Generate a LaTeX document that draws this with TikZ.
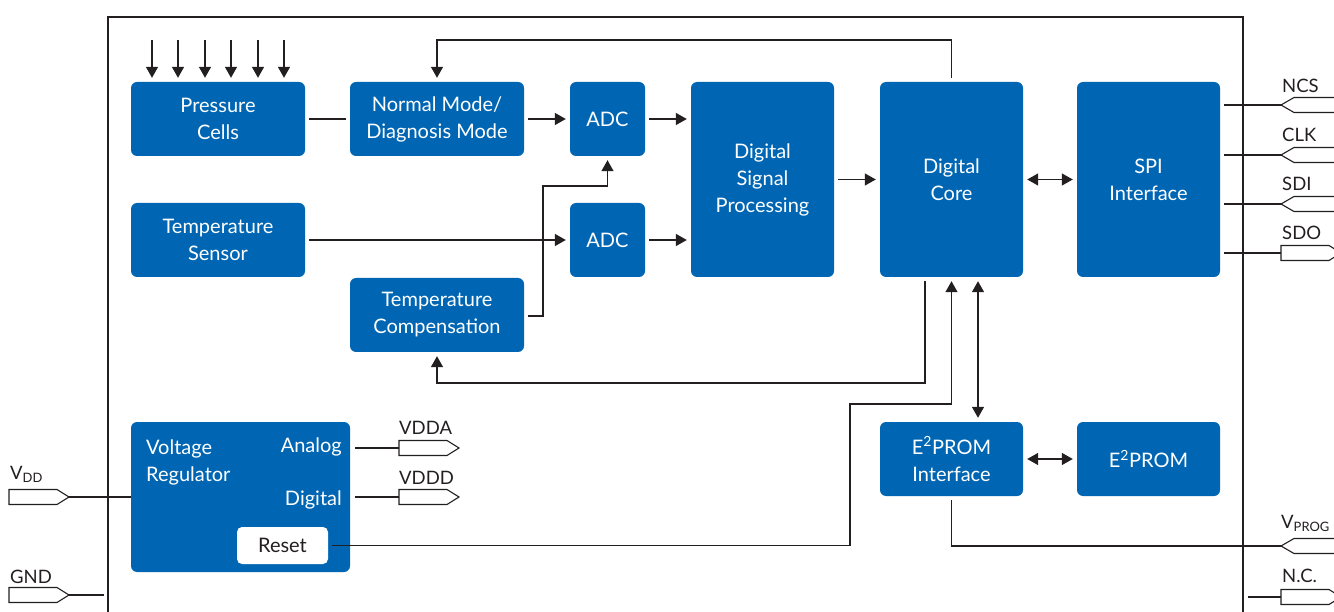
\documentclass[tikz,border=0pt]{standalone}
\usepackage{fontspec}
\setmainfont{Lato}
\usetikzlibrary{arrows.meta}
\definecolor{ifx}{HTML}{0066B3}
\definecolor{ln}{HTML}{231F20}
\begin{document}
\begin{tikzpicture}[x=1pt,y=-1pt,
 blk/.style={fill=ifx, rounded corners=6pt, text=white, align=center, font=\fontsize{20}{27}\selectfont, inner sep=0pt},
 wire/.style={draw=ln, line width=1.4pt},
 tip/.tip={Triangle[width=12pt,length=11pt]},
 arr/.style={wire, -tip},
 darr/.style={wire, tip-tip},
 gap/.style={shorten <=4pt, shorten >=4pt},
 pinshape/.style={draw=ln, line width=1.1pt, fill=white},
 lbl/.style={font=\fontsize{18.5}{20}\selectfont, text=ln, inner sep=0pt, anchor=base west},
 wtxt/.style={font=\fontsize{20}{27}\selectfont, text=white, inner sep=0pt},
 innerbox/.style={fill=white, rounded corners=5pt, text=ln, font=\fontsize{20}{27}\selectfont, inner sep=0pt}
]
\useasboundingbox (0,0) rectangle (1334,612);
% frame
\draw[draw=ln, line width=1.3pt] (108,620) -- (108,17) -- (1243,17) -- (1243,620);

% blocks
\node[blk, minimum width=174pt, minimum height=74pt] (pc) at (218,119) {Pressure\\Cells};
\node[blk, minimum width=174pt, minimum height=74pt] (nm) at (437,119) {Normal Mode/\\Diagnosis Mode};
\node[blk, minimum width=75pt, minimum height=74pt] (adc1) at (607.5,119) {ADC};
\node[blk, minimum width=143pt, minimum height=195pt] (dsp) at (762.5,179.5) {Digital\\Signal\\Processing};
\node[blk, minimum width=143pt, minimum height=195pt] (core) at (951.5,179.5) {Digital\\Core};
\node[blk, minimum width=143pt, minimum height=195pt] (spi) at (1148.5,179.5) {SPI\\Interface};
\node[blk, minimum width=174pt, minimum height=74pt] (ts) at (218,240) {Temperature\\Sensor};
\node[blk, minimum width=75pt, minimum height=74pt] (adc2) at (607.5,240) {ADC};
\node[blk, minimum width=174pt, minimum height=74pt] (tc) at (437,315) {Temperature\\Compensation};
\node[blk, minimum width=219pt, minimum height=150pt] (vr) at (240.5,497) {};
\node[innerbox, minimum width=91pt, minimum height=37pt] (rst) at (282.5,545.5) {Reset};
\node[blk, minimum width=143pt, minimum height=74pt] (eif) at (951.5,459) {E\textsuperscript{2}PROM\\Interface};
\node[blk, minimum width=143pt, minimum height=74pt] (eep) at (1148.5,459) {E\textsuperscript{2}PROM};

% texts inside voltage regulator
\node[wtxt, anchor=base west] (vrt1) at (146,454) {Voltage};
\node[wtxt, anchor=base west] (vrt2) at (146,481) {Regulator};
\node[wtxt, anchor=base east] (vra) at (342,452) {Analog};
\node[wtxt, anchor=base east] (vrd) at (342,505) {Digital};

% pressure arrows
\foreach \i/\x in {1/152,2/178,3/205,4/231,5/258,6/284}{
  \coordinate (src\i) at (\x,40);
  \draw[arr, shorten >=4pt] (src\i) -- (src\i |- pc.north);
}

% connectors
\draw[wire, gap] (pc.east) -- (nm.west);
\draw[arr, gap] (nm.east) -- (adc1.west);
\draw[arr, gap] (adc1.east) -- (adc1.east -| dsp.west);
\draw[arr, gap] (adc2.east) -- (adc2.east -| dsp.west);
\draw[arr, gap] (dsp.east) -- (core.west);
\draw[darr, gap] (core.east) -- (spi.west);
\draw[arr, gap] (ts.east) -- (adc2.west);
\draw[darr, gap] (eif.east) -- (eep.west);

\coordinate (tcA) at (543,316);
\coordinate (tcB) at (543,186);
\draw[arr, gap] (tc.east |- tcA) -- (tcA) -- (tcB) -- (adc1.south |- tcB) -- (adc1.south);

\coordinate (topline) at (0,40);
\draw[arr, gap] (core.north) -- (core.north |- topline) -- (nm.north |- topline) -- (nm.north);

\coordinate (cbA) at (925,383);
\draw[arr, gap] (cbA |- core.south) -- (cbA) -- (tc.south |- cbA) -- (tc.south);

\coordinate (rsB) at (850,404);
\draw[arr, gap] (rst.east) -- (rsB |- rst.east) -- (rsB) -- (core.south |- rsB) -- (core.south);

\coordinate (ceA) at (978,300);
\draw[darr, gap] (ceA |- core.south) -- (ceA |- eif.north);

% output pins (pointing right)
\foreach \n/\x/\y in {vdd/9/497, gnd/9/595, vdda/399/448, vddd/399/497, sdo/1281/253, nc/1281/597}{
  \coordinate (\n) at (\x,\y);
  \draw[pinshape] (\x,\y-7.5) -- ++(48,0) -- ++(12,7.5) -- ++(-12,7.5) -- ++(-48,0) -- cycle;
}
% input pins (pointing left)
\foreach \n/\y in {ncs/105, clk/155, sdi/204, vprog/546}{
  \coordinate (\n) at (1281,\y);
  \draw[pinshape] (1345,\y-7.5) -- (1294,\y-7.5) -- (1281,\y) -- (1294,\y+7.5) -- (1345,\y+7.5);
}

% pin wires
\draw[wire] ([xshift=60pt]vdd) -- (vdd -| vr.west);
\draw[wire] ([xshift=60pt]gnd) -- (104,595);
\draw[wire, shorten <=5pt] (vr.east |- vdda) -- (vdda);
\draw[wire, shorten <=5pt] (vr.east |- vddd) -- (vddd);
\draw[wire, shorten <=4pt] (spi.east |- ncs) -- (ncs);
\draw[wire, shorten <=4pt] (spi.east |- clk) -- (clk);
\draw[wire, shorten <=4pt] (spi.east |- sdi) -- (sdi);
\draw[wire, shorten <=4pt] (spi.east |- sdo) -- (sdo);
\draw[wire, shorten <=4pt] (eif.south) -- (eif.south |- vprog) -- (vprog);
\coordinate (ncw) at (1248,597);
\draw[wire] (ncw) -- (nc);

% pin labels
\node[lbl] (lncs) at (1282,93) {NCS};
\node[lbl] (lclk) at (1282,142) {CLK};
\node[lbl] (lsdi) at (1282,191) {SDI};
\node[lbl] (lsdo) at (1282,240) {SDO};
\node[lbl] (lvprog) at (1281,528) {V\textsubscript{PROG}};
\node[lbl] (lnc) at (1282,582) {N.C.};
\node[lbl] (lvdd) at (10,479) {V\textsubscript{DD}};
\node[lbl] (lgnd) at (10,583) {GND};
\node[lbl] (lvdda) at (399,435) {VDDA};
\node[lbl] (lvddd) at (399,484) {VDDD};
\end{tikzpicture}
\end{document}
